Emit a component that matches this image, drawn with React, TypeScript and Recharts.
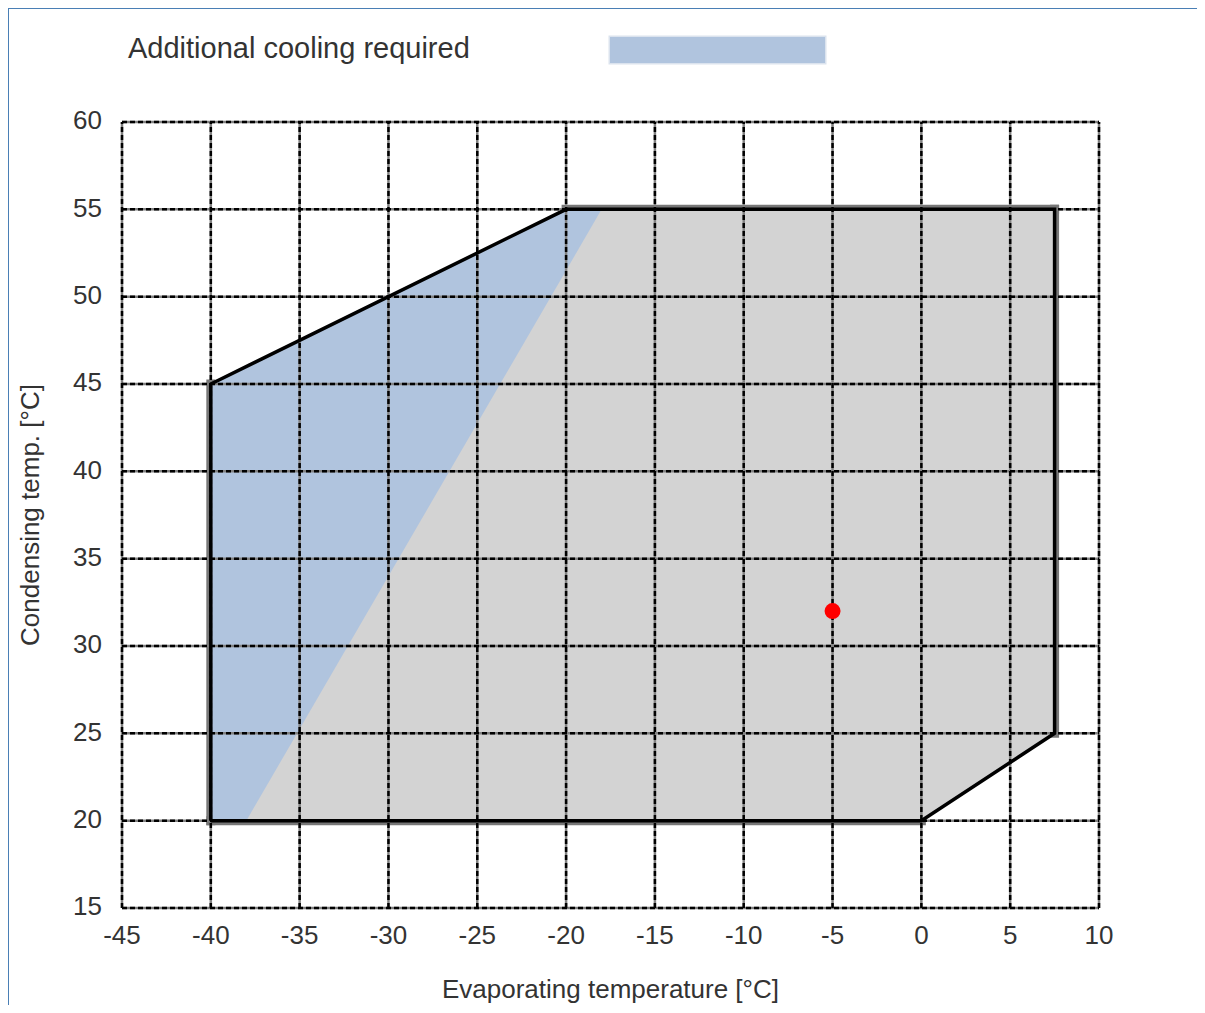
import React, { useEffect } from "react";
import {
  ComposedChart,
  Area,
  Scatter,
  XAxis,
  YAxis,
  ReferenceLine,
} from "recharts";

// ---- Data ----
const xTicks = [-45, -40, -35, -30, -25, -20, -15, -10, -5, 0, 5, 10];
const yTicks = [15, 20, 25, 30, 35, 40, 45, 50, 55, 60];

// Operating envelope (range area: low / high at each evaporating temp)
const envelopeX = [-40, -38, -20, -18, 0, 7.5];
const envelopeLow = [20, 20, 20, 20, 20, 25];
const envelopeHigh = [45, 46, 55, 55, 55, 55];

// "Additional cooling required" zone
const coolingLow: (number | null)[] = [20, 20, 51.5, 55, null, null];
const coolingHigh: (number | null)[] = [45, 46, 55, 55, null, null];

// Envelope outline vertices
const outlineX = [-40, -40, -20, 7.5, 7.5, 0, -40];
const outlineY = [20, 45, 55, 55, 25, 20, 20];

// Straight edges that carry a grey outer shadow
const shadowEdges = [
  [{ x: -40, y: 20 }, { x: -40, y: 45 }],
  [{ x: -20, y: 55 }, { x: 7.5, y: 55 }],
  [{ x: 7.5, y: 55 }, { x: 7.5, y: 25 }],
  [{ x: 0, y: 20 }, { x: -40, y: 20 }],
];

// Operating point
const operatingPoint = [{ x: -5, y: 32 }];

const legendLabel = "Additional cooling required";
const xLabel = "Evaporating temperature [°C]";
const yLabel = "Condensing temp. [°C]";

// ---- Derived tables ----
const tableData = envelopeX.map((x, i) => ({
  x,
  envelope: [envelopeLow[i], envelopeHigh[i]],
  cooling:
    coolingLow[i] === null || coolingHigh[i] === null
      ? null
      : [coolingLow[i], coolingHigh[i]],
}));

const outlineData = outlineX.map((x, i) => ({ x, y: outlineY[i] }));

const FONT = "'Liberation Sans', Arial, Helvetica, sans-serif";
const TEXT = "#333333";

const noShape = () => <g />;

export default function App() {
  useEffect(() => {
    document.body.style.overflow = "hidden";
  }, []);

  return (
    <div style={{ position: "relative", width: 1197, height: 997 }}>
      {/* legend */}
      <div
        style={{
          position: "absolute",
          left: 120,
          top: 26,
          fontFamily: FONT,
          fontSize: 29,
          lineHeight: "28px",
          color: TEXT,
          whiteSpace: "nowrap",
        }}
      >
        {legendLabel}
      </div>
      <div
        style={{
          position: "absolute",
          left: 602,
          top: 29,
          width: 215,
          height: 26,
          background: "#b0c4de",
          boxShadow: "0 0 0 1.5px #dbe3ee",
        }}
      />
      <ComposedChart
        width={1197}
        height={997}
        data={tableData}
        margin={{ top: 114, right: 106, bottom: 37, left: 0 }}
        style={{ overflow: "visible" }}
      >
        <XAxis
          type="number"
          dataKey="x"
          domain={[-45, 10]}
          ticks={xTicks}
          interval={0}
          allowDataOverflow
          height={60}
          tickLine={false}
          axisLine={false}
          tickMargin={12}
          tick={{ fontSize: 26, fill: TEXT, fontFamily: FONT }}
          label={{
            value: xLabel,
            position: "bottom",
            offset: 12,
            style: { fontSize: 26, fill: TEXT, fontFamily: FONT },
          }}
        />
        <YAxis
          type="number"
          dataKey="y"
          domain={[15, 60]}
          ticks={yTicks}
          interval={0}
          allowDataOverflow
          width={114}
          tickLine={false}
          axisLine={false}
          tickMargin={14}
          tick={{ fontSize: 26, fill: TEXT, fontFamily: FONT, dy: -2 }}
          label={{
            value: yLabel,
            angle: -90,
            position: "insideLeft",
            offset: 22,
            style: {
              fontSize: 26,
              fill: TEXT,
              fontFamily: FONT,
              textAnchor: "middle",
            },
          }}
        />

        {shadowEdges.map((edge, i) => (
          <Scatter
            key={`shadow-${i}`}
            data={edge}
            shape={noShape}
            line={{ stroke: "#777777", strokeWidth: 9, strokeLinecap: "square" }}
            lineType="joint"
            isAnimationActive={false}
            zIndex={50}
          />
        ))}

        <Area
          type="linear"
          dataKey="envelope"
          fill="#d3d3d3"
          fillOpacity={1}
          stroke="none"
          dot={false}
          activeDot={false}
          isAnimationActive={false}
          zIndex={100}
        />
        <Area
          type="linear"
          dataKey="cooling"
          fill="#b0c4de"
          fillOpacity={1}
          stroke="none"
          dot={false}
          activeDot={false}
          isAnimationActive={false}
          zIndex={110}
        />

        {xTicks.map((v) => (
          <ReferenceLine
            key={`gx-${v}`}
            x={v}
            stroke="#808080"
            strokeWidth={2.5}
            zIndex={150}
          />
        ))}
        {yTicks.map((v) => (
          <ReferenceLine
            key={`gy-${v}`}
            y={v}
            stroke="#808080"
            strokeWidth={2.5}
            zIndex={150}
          />
        ))}
        {xTicks.map((v) => (
          <ReferenceLine
            key={`dx-${v}`}
            x={v}
            stroke="#000000"
            strokeWidth={2.5}
            strokeDasharray="5 3"
            zIndex={160}
          />
        ))}
        {yTicks.map((v) => (
          <ReferenceLine
            key={`dy-${v}`}
            y={v}
            stroke="#000000"
            strokeWidth={2.5}
            strokeDasharray="5 3"
            zIndex={160}
          />
        ))}

        <Scatter
          data={outlineData}
          shape={noShape}
          line={{ stroke: "#000000", strokeWidth: 3.5, strokeLinejoin: "miter" }}
          lineType="joint"
          isAnimationActive={false}
          zIndex={600}
        />
        <Scatter
          data={operatingPoint}
          fill="#ff0000"
          shape={(p: any) => <circle cx={p.cx} cy={p.cy} r={8} fill="#ff0000" />}
          isAnimationActive={false}
          zIndex={700}
        />
      </ComposedChart>
      {/* frame */}
      <div
        style={{
          position: "absolute",
          left: -2,
          top: -2,
          width: 1210,
          height: 1012,
          borderTop: "3px solid #4a7fb5",
          borderLeft: "3px solid #4a7fb5",
          boxSizing: "border-box",
          pointerEvents: "none",
          zIndex: 10,
        }}
      />
    </div>
  );
}
